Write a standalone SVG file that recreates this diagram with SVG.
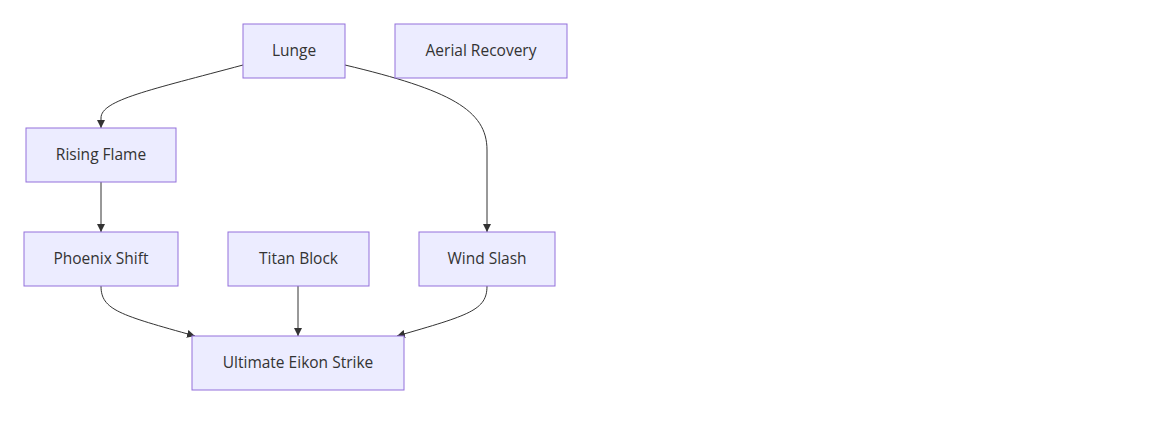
<svg xmlns="http://www.w3.org/2000/svg" width="1160" height="423" viewBox="0 0 1160 423">
<style>
.node rect{fill:#ECECFF;stroke:#9370DB;stroke-width:1px;}
.node text{font-family:"Open Sans","Liberation Sans",sans-serif;font-size:15.5px;fill:#333;text-anchor:middle;dominant-baseline:central;}
.edge{fill:none;stroke:#333;stroke-width:1px;marker-end:url(#arrow);}
</style>
<defs>
<marker id="arrow" viewBox="0 0 10 10" refX="10" refY="5" markerWidth="8" markerHeight="8" markerUnits="userSpaceOnUse" orient="auto">
<path d="M0,0 L10,5 L0,10 z" fill="#333"/>
</marker>
</defs>
<rect width="1160" height="423" fill="#fff"/>
<g id="connectors">
<path class="edge" d="M243,65 C150,90 101,100 101,118 L101,128"/>
<path class="edge" d="M345,65 C450,90 487,110 487,150 L487,232"/>
<path class="edge" d="M101,182 L101,232"/>
<path class="edge" d="M101,286 C101,310 120,315 195,336"/>
<path class="edge" d="M298,286 L298,336"/>
<path class="edge" d="M487,286 C487,310 470,315 397,336"/>
</g>
<g id="lunge" class="node"><rect x="243" y="24" width="102" height="54"/><text x="294" y="50">Lunge</text></g>
<g id="aerial-recovery" class="node"><rect x="395" y="24" width="172" height="54"/><text x="481" y="50">Aerial Recovery</text></g>
<g id="rising-flame" class="node"><rect x="26" y="128" width="150" height="54"/><text x="101" y="154">Rising Flame</text></g>
<g id="phoenix-shift" class="node"><rect x="24" y="232" width="154" height="54"/><text x="101" y="258">Phoenix Shift</text></g>
<g id="titan-block" class="node"><rect x="228" y="232" width="141" height="54"/><text x="298.5" y="258">Titan Block</text></g>
<g id="wind-slash" class="node"><rect x="419" y="232" width="136" height="54"/><text x="487" y="258">Wind Slash</text></g>
<g id="ultimate-eikon-strike" class="node"><rect x="192" y="336" width="212" height="54"/><text x="298" y="362">Ultimate Eikon Strike</text></g>
</svg>
